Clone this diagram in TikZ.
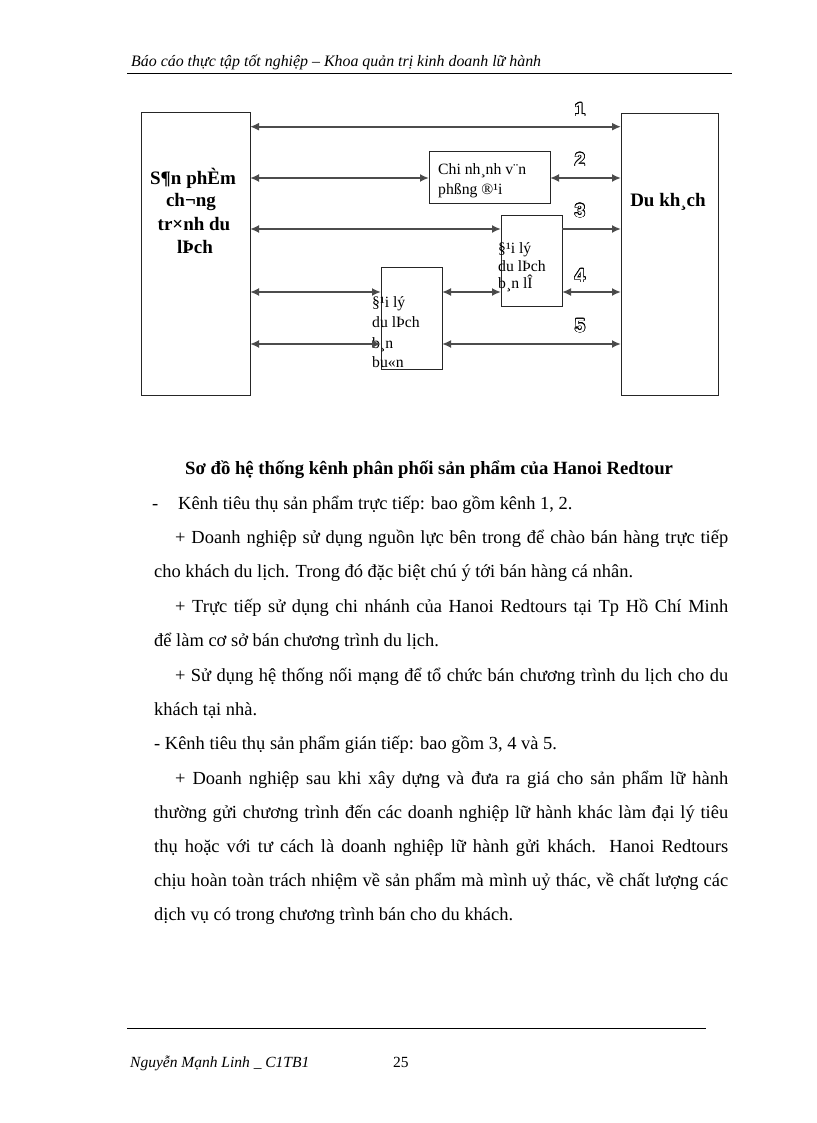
\documentclass[tikz,border=0pt]{standalone}
\usepackage{fontspec}
\setmainfont{Liberation Serif}
\newfontfamily\numfont{Liberation Sans}
\usepackage{contour}
\contourlength{0.7pt}
\usetikzlibrary{arrows.meta}
\begin{document}
\begin{tikzpicture}[x=1pt,y=-1pt,
  box/.style={draw=black!85,line width=1pt,inner sep=0pt,outer sep=0pt},
  conn/.style={line width=1.9pt,draw=black!70},
  tip/.tip={Latex[length=9pt,width=8pt,fill=black!80]},
  both/.style={conn,tip-tip},
  fwd/.style={conn,-tip},
  txt/.style={inner sep=0pt,anchor=base west},
  body/.style={txt,font=\fontsize{18.45}{21}\selectfont},
  btxt/.style={inner sep=0pt,anchor=base,font=\fontsize{19}{22}\selectfont\bfseries},
  stxt/.style={txt,font=\fontsize{15.7}{18}\selectfont},
  num/.style={inner sep=0pt,anchor=center,font=\fontsize{19}{20}\numfont\bfseries}
]
\useasboundingbox (0,0) rectangle (816,1123);
\fill[white] (0,0) rectangle (816,1123);
% header
\node[txt,font=\fontsize{15.9}{18}\selectfont\itshape] (hdr) at (131,67) {Báo cáo thực tập tốt nghiệp – Khoa quản trị kinh doanh lữ hành};
\draw[line width=1pt] (127,73.5) -- (732,73.5);
% boxes
\node[box,minimum width=109pt,minimum height=282pt] (L) at (195.5,254) {};
\node[box,minimum width=97pt,minimum height=281pt] (R) at (669.5,254.5) {};
\node[box,minimum width=121pt,minimum height=52pt] (C) at (489.5,178) {};
\node[box,minimum width=61pt,minimum height=90pt] (BL) at (531.5,261) {};
\node[box,minimum width=61pt,minimum height=102pt] (BB) at (411.5,318) {};
% box texts
\node[btxt] (l1) at (193,185) {S¶n phÈm};
\node[btxt] (l2) at (191,207) {ch¬ng};
\node[btxt] (l3) at (194,231) {tr×nh du};
\node[btxt] (l4) at (195,254) {lÞch};
\node[btxt] (r1) at (668,207) {Du kh¸ch};
\node[stxt] (c1) at (438,175) {Chi nh¸nh v¨n};
\node[stxt] (c2) at (438,195) {phßng ®¹i};
\node[stxt] (e1) at (498,254) {§¹i lý};
\node[stxt] (e2) at (498,271) {du lÞch};
\node[stxt] (e3) at (498,288) {b¸n lÎ};
\node[stxt] (u1) at (372,307) {§¹i lý};
\node[stxt] (u2) at (372,327) {du lÞch};
\node[stxt] (u3) at (372,348) {b¸n};
\node[stxt] (u4) at (372,367) {bu«n};
% rows
\coordinate (y1) at (0,126.7);
\coordinate (y2) at (0,178);
\coordinate (y3) at (0,229);
\coordinate (y4) at (0,292);
\coordinate (y5) at (0,344);
\draw[both] (L.east |- y1) -- (R.west |- y1);
\draw[both] (L.east |- y2) -- (C.west |- y2);
\draw[both] (C.east |- y2) -- (R.west |- y2);
\draw[both] (L.east |- y3) -- (BL.west |- y3);
\draw[fwd] (BL.east |- y3) -- (R.west |- y3);
\draw[both] (L.east |- y4) -- (BB.west |- y4);
\draw[both] (BB.east |- y4) -- (BL.west |- y4);
\draw[both] (BL.east |- y4) -- (R.west |- y4);
\draw[both] (L.east |- y5) -- (BB.west |- y5);
\draw[both] (BB.east |- y5) -- (R.west |- y5);
% numbers
\node[num] (n1) at (580,110) {\contour{black}{\textcolor{white}{1}}};
\node[num] (n2) at (580,160) {\contour{black}{\textcolor{white}{2}}};
\node[num] (n3) at (580,211) {\contour{black}{\textcolor{white}{3}}};
\node[num] (n4) at (580,276) {\contour{black}{\textcolor{white}{4}}};
\node[num] (n5) at (580,326) {\contour{black}{\textcolor{white}{5}}};
% caption
\node[inner sep=0pt,anchor=base west,font=\fontsize{18.7}{21}\selectfont\bfseries] (cap) at (185,474) {Sơ đồ hệ thống kênh phân phối sản phẩm của Hanoi Redtour};
% body
\node[body] (b0) at (152,509) {-};
\node[body] (b1) at (178,509) {Kênh tiêu thụ sản phẩm trực tiếp: bao gồm kênh 1, 2.};
\node[body] (b2) at (175,543) {\makebox[553pt][s]{+ Doanh nghiệp sử dụng nguồn lực bên trong để chào bán hàng trực tiếp}};
\node[body] (b3) at (154,577) {cho khách du lịch. Trong đó đặc biệt chú ý tới bán hàng cá nhân.};
\node[body] (b4) at (175,612) {\makebox[553pt][s]{+ Trực tiếp sử dụng chi nhánh của Hanoi Redtours tại Tp Hồ Chí Minh}};
\node[body] (b5) at (154,646) {để làm cơ sở bán chương trình du lịch.};
\node[body] (b6) at (175,681) {\makebox[553pt][s]{+ Sử dụng hệ thống nối mạng để tổ chức bán chương trình du lịch cho du}};
\node[body] (b7) at (154,715) {khách tại nhà.};
\node[body] (b8) at (154,749) {- Kênh tiêu thụ sản phẩm gián tiếp: bao gồm 3, 4 và 5.};
\node[body] (b9) at (175,784) {\makebox[553pt][s]{+ Doanh nghiệp sau khi xây dựng và đưa ra giá cho sản phẩm lữ hành}};
\node[body] (b10) at (154,818) {\makebox[574pt][s]{thường gửi chương trình đến các doanh nghiệp lữ hành khác làm đại lý tiêu}};
\node[body] (b11) at (154,852) {\makebox[574pt][s]{thụ hoặc với tư cách là doanh nghiệp lữ hành gửi khách. Hanoi Redtours}};
\node[body] (b12) at (154,886) {\makebox[574pt][s]{chịu hoàn toàn trách nhiệm về sản phẩm mà mình uỷ thác, về chất lượng các}};
\node[body] (b13) at (154,920) {dịch vụ có trong chương trình bán cho du khách.};
% footer
\draw[line width=1pt] (127,1028) -- (706,1028);
\node[txt,font=\fontsize{15.5}{18}\selectfont\itshape] (f1) at (130,1067) {Nguyễn Mạnh Linh \_ C1TB1};
\node[txt,font=\fontsize{15.5}{18}\selectfont] (f2) at (393,1067) {25};
\end{tikzpicture}
\end{document}
